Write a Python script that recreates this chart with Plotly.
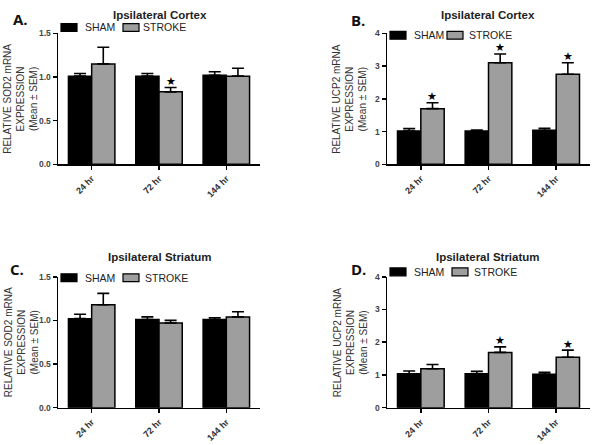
import plotly.graph_objects as go

categories = ["24 hr", "72 hr", "144 hr"]
series_names = ["SHAM", "STROKE"]

# Panel A: SOD2, ipsilateral cortex
a_sham = [1.01, 1.01, 1.02]
a_sham_sem = [0.03, 0.03, 0.04]
a_stroke = [1.15, 0.83, 1.01]
a_stroke_sem = [0.19, 0.05, 0.09]
a_sig = [False, True, False]

# Panel B: UCP2, ipsilateral cortex
b_sham = [1.02, 1.02, 1.04]
b_sham_sem = [0.07, 0.03, 0.06]
b_stroke = [1.70, 3.10, 2.75]
b_stroke_sem = [0.18, 0.27, 0.35]
b_sig = [True, True, True]

# Panel C: SOD2, ipsilateral striatum
c_sham = [1.02, 1.01, 1.01]
c_sham_sem = [0.05, 0.03, 0.02]
c_stroke = [1.18, 0.97, 1.04]
c_stroke_sem = [0.13, 0.03, 0.06]
c_sig = [False, False, False]

# Panel D: UCP2, ipsilateral striatum
d_sham = [1.04, 1.04, 1.02]
d_sham_sem = [0.08, 0.07, 0.06]
d_stroke = [1.19, 1.69, 1.54]
d_stroke_sem = [0.13, 0.17, 0.22]
d_sig = [False, True, True]

FONT = "Liberation Sans, Arial, sans-serif"
GRAY = "#9e9e9e"
W, H = 600, 445

panels = [
    dict(sham=a_sham, sham_sem=a_sham_sem, stroke=a_stroke, stroke_sem=a_stroke_sem, sig=a_sig,
         letter="A.", title="Ipsilateral Cortex", ytitle="RELATIVE SOD2 mRNA<br>EXPRESSION<br>(Mean ± SEM)",
         yrange=[0, 1.5], dtick=0.5, fmt=".1f",
         xpx=(58, 260), ypx=(29, 163),
         leg=dict(y=23, sw1=61, t1=83, sw2=123, t2=141),
         titlexy=(160, 10), letterxy=(20, 14), ytx=21),
    dict(sham=b_sham, sham_sem=b_sham_sem, stroke=b_stroke, stroke_sem=b_stroke_sem, sig=b_sig,
         letter="B.", title="Ipsilateral Cortex", ytitle="RELATIVE UCP2 mRNA<br>EXPRESSION<br>(Mean ± SEM)",
         yrange=[0, 4], dtick=1, fmt="d",
         xpx=(387, 590), ypx=(29, 163),
         leg=dict(y=31, sw1=390, t1=412, sw2=447, t2=467),
         titlexy=(488, 10), letterxy=(358, 15), ytx=350),
    dict(sham=c_sham, sham_sem=c_sham_sem, stroke=c_stroke, stroke_sem=c_stroke_sem, sig=c_sig,
         letter="C.", title="Ipsilateral Striatum", ytitle="RELATIVE SOD2 mRNA<br>EXPRESSION<br>(Mean ± SEM)",
         yrange=[0, 1.5], dtick=0.5, fmt=".1f",
         xpx=(58, 260), ypx=(278, 412),
         leg=dict(y=279, sw1=61, t1=83, sw2=123, t2=143),
         titlexy=(160, 258), letterxy=(17, 270), ytx=21),
    dict(sham=d_sham, sham_sem=d_sham_sem, stroke=d_stroke, stroke_sem=d_stroke_sem, sig=d_sig,
         letter="D.", title="Ipsilateral Striatum", ytitle="RELATIVE UCP2 mRNA<br>EXPRESSION<br>(Mean ± SEM)",
         yrange=[0, 4], dtick=1, fmt="d",
         xpx=(387, 590), ypx=(278, 412),
         leg=dict(y=273, sw1=390, t1=412, sw2=452, t2=472),
         titlexy=(488, 258), letterxy=(358, 270), ytx=350),
]

fig = go.Figure()
annotations = []
shapes = []
layout = {}


def px(x):
    return x / W


def py(y):
    return 1 - y / H


for i, p in enumerate(panels):
    n = i + 1
    xa = "x" if n == 1 else f"x{n}"
    ya = "y" if n == 1 else f"y{n}"
    colors = ["black", GRAY]
    for name, vals, sems, col in zip(series_names, [p["sham"], p["stroke"]],
                                     [p["sham_sem"], p["stroke_sem"]], colors):
        fig.add_trace(go.Bar(
            x=categories, y=vals, name=name, xaxis=xa, yaxis=ya, showlegend=False,
            marker=dict(color=col, line=dict(color="black", width=1.5)),
            error_y=dict(type="data", array=sems, arrayminus=[0] * len(categories),
                         symmetric=False, color="black", thickness=1.6, width=6),
            offsetgroup=f"{name}{n}",
        ))
    xkey = "xaxis" if n == 1 else f"xaxis{n}"
    ykey = "yaxis" if n == 1 else f"yaxis{n}"
    layout[xkey] = dict(
        domain=[px(p["xpx"][0]), px(p["xpx"][1])], anchor=ya, range=[-0.5, 2.5], type="category",
        showline=True, linecolor="black", linewidth=1.5, ticks="outside", ticklen=4,
        tickcolor="black", tickwidth=1.5, tickangle=-45, showgrid=False, zeroline=False,
        tickfont=dict(family=FONT, size=9, color="#333", weight="bold"),
    )
    layout[ykey] = dict(
        domain=[py(p["ypx"][1]), py(p["ypx"][0])], anchor=xa, range=p["yrange"],
        dtick=p["dtick"], tick0=0,
        tickformat=p["fmt"], showline=True, linecolor="black", linewidth=1.5,
        ticks="outside", ticklen=4, tickcolor="black", tickwidth=1.5, showgrid=False,
        zeroline=False, tickfont=dict(family=FONT, size=8.5, color="#444", weight="bold"),
    )
    # legend drawn as swatches + labels
    lg = p["leg"]
    for sx, tx, col, name in [(lg["sw1"], lg["t1"], "black", series_names[0]),
                              (lg["sw2"], lg["t2"], GRAY, series_names[1])]:
        shapes.append(dict(type="rect", xref="paper", yref="paper",
                           x0=px(sx), x1=px(sx + 16), y0=py(lg["y"] + 4), y1=py(lg["y"] - 4),
                           fillcolor=col, line=dict(color="black", width=1.2)))
        annotations.append(dict(
            text=name, xref="paper", yref="paper", x=px(tx), y=py(lg["y"]),
            xanchor="left", yanchor="middle", showarrow=False,
            font=dict(family=FONT, size=10.5, color="#222"),
        ))
    # title, letter, y-axis title
    annotations.append(dict(
        text=p["title"], xref="paper", yref="paper", x=px(p["titlexy"][0]),
        y=py(p["titlexy"][1]), xanchor="center", yanchor="middle", showarrow=False,
        font=dict(family=FONT, size=11.5, color="#222", weight="bold"),
    ))
    annotations.append(dict(
        text=p["letter"], xref="paper", yref="paper", x=px(p["letterxy"][0]),
        y=py(p["letterxy"][1]), xanchor="center", yanchor="middle", showarrow=False,
        font=dict(family="Open Sans, sans-serif", size=15, color="#111", weight="bold"),
    ))
    annotations.append(dict(
        text=p["ytitle"], xref="paper", yref="paper", x=px(p["ytx"]),
        y=py((p["ypx"][0] + p["ypx"][1]) / 2), xanchor="center", yanchor="middle",
        showarrow=False, textangle=-90,
        font=dict(family=FONT, size=10, color="#333"),
    ))
    # significance stars above STROKE bars
    for cat, m, s, sig in zip(categories, p["stroke"], p["stroke_sem"], p["sig"]):
        if sig:
            annotations.append(dict(
                text="★", xref=xa, yref=ya, x=cat, y=m + s, xshift=11.5, yshift=6,
                xanchor="center", yanchor="middle", showarrow=False,
                font=dict(family="DejaVu Sans", size=11, color="black"),
            ))

fig.update_layout(
    width=W, height=H, margin=dict(l=0, r=0, t=0, b=0),
    paper_bgcolor="white", plot_bgcolor="white",
    barmode="group", bargap=0.31, bargroupgap=0,
    annotations=annotations, shapes=shapes, showlegend=False,
)
fig.update_layout(**layout)

fig.write_html(
    "out.html",
    config={"displayModeBar": False, "staticPlot": True},
    post_script="document.body.style.margin='0';document.body.style.overflow='hidden';",
)
